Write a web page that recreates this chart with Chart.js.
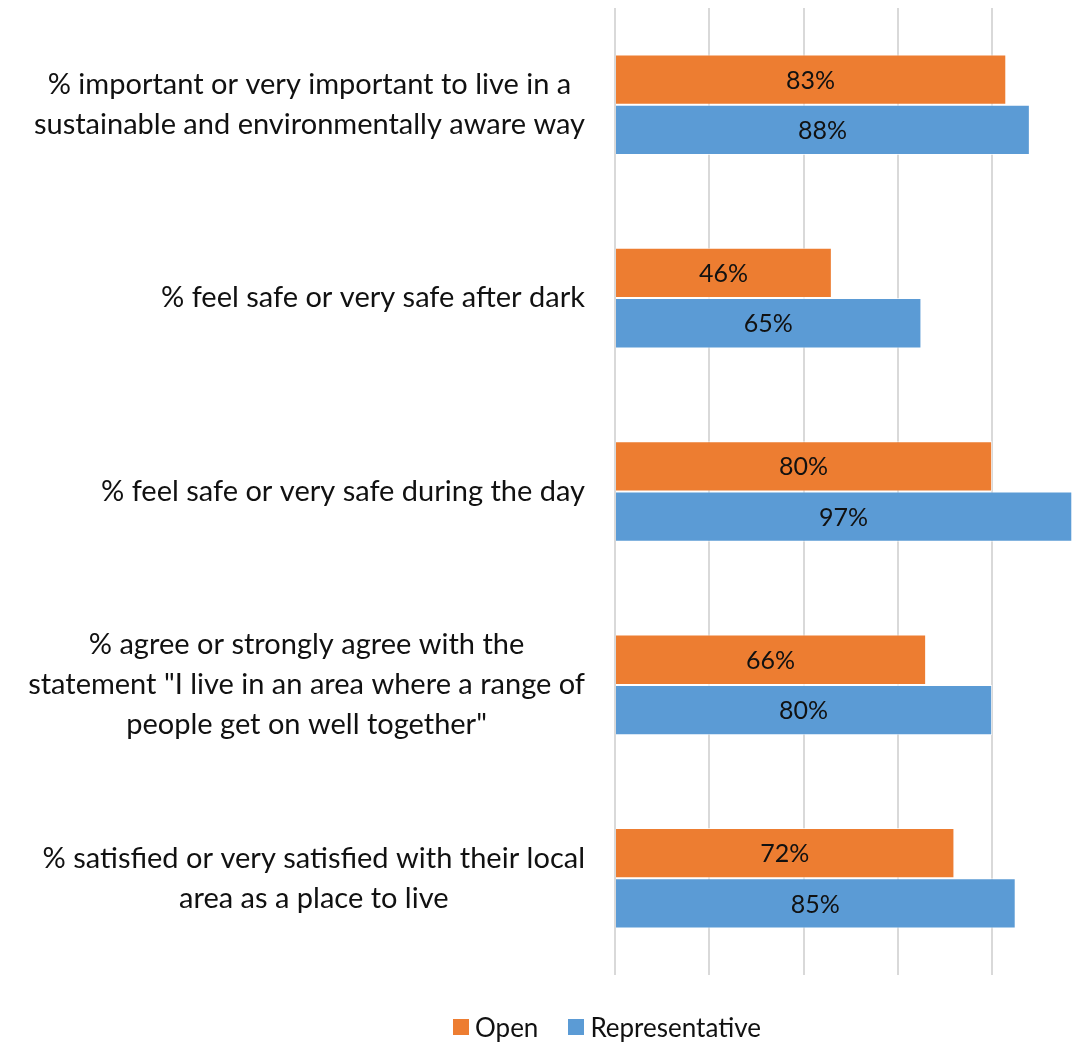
<!DOCTYPE html>
<html>
<head>
<meta charset="utf-8">
<script src="https://cdn.jsdelivr.net/npm/chart.js@4.4.1/dist/chart.umd.min.js"></script>
<style>
  html, body { margin: 0; padding: 0; background: #fff; }
  #wrap { position: relative; width: 1077px; height: 1044px; }
  #legend-container { position: absolute; left: 453px; top: 1011px; }
</style>
</head>
<body>
<div id="wrap">
  <canvas id="chart" width="1077" height="1044"></canvas>
  <div id="legend-container"></div>
</div>
<script>
const categories = [
    ['% important or very important to live in a', 'sustainable and environmentally aware way'],
    ['% feel safe or very safe after dark'],
    ['% feel safe or very safe during the day'],
    ['% agree or strongly agree with the', 'statement "I live in an area where a range of', 'people get on well together"'],
    ['% satisfied or very satisfied with their local', 'area as a place to live']
];
const openValues = [83, 46, 80, 66, 72];
const representativeValues = [88, 65, 97, 80, 85];
const seriesNames = ['Open', 'Representative'];
const seriesColors = ['#ED7D31', '#5B9BD5'];

const FONT = 'Lato, Calibri, Carlito, sans-serif';

// value labels in the middle of every bar
const barLabels = {
    id: 'barLabels',
    afterDatasetsDraw(chart) {
        const ctx = chart.ctx;
        ctx.save();
        ctx.font = '25px ' + FONT;
        ctx.fillStyle = '#111';
        ctx.textAlign = 'center';
        ctx.textBaseline = 'middle';
        chart.data.datasets.forEach((ds, i) => {
            chart.getDatasetMeta(i).data.forEach((bar, j) => {
                const xs = chart.scales.x;
                const cx = (xs.getPixelForValue(0) + bar.x) / 2;
                ctx.fillText(ds.data[j] + '%', cx, bar.y + 1);
            });
        });
        ctx.restore();
    }
};

// category labels: block right aligned, each line centred inside the block (like Excel)
const categoryLabels = {
    id: 'categoryLabels',
    afterDraw(chart) {
        const ctx = chart.ctx;
        const ys = chart.scales.y;
        const right = chart.chartArea.left - 30;
        const lh = 40;
        ctx.save();
        ctx.font = '29px ' + FONT;
        ctx.fillStyle = '#111';
        ctx.textAlign = 'center';
        ctx.textBaseline = 'middle';
        chart.data.labels.forEach((lines, i) => {
            const y = ys.getPixelForValue(i);
            const w = Math.max(...lines.map(l => ctx.measureText(l).width));
            const cx = right - w / 2;
            lines.forEach((l, k) => {
                ctx.fillText(l, cx, y + (k - (lines.length - 1) / 2) * lh);
            });
        });
        ctx.restore();
    }
};

const htmlLegend = {
    id: 'htmlLegend',
    afterUpdate(chart) {
        const box = document.getElementById('legend-container');
        box.innerHTML = '';
        const ul = document.createElement('ul');
        ul.style.display = 'flex';
        ul.style.margin = 0;
        ul.style.padding = 0;
        ul.style.listStyle = 'none';
        ul.style.gap = '30px';
        chart.data.datasets.forEach(ds => {
            const li = document.createElement('li');
            li.style.display = 'flex';
            li.style.alignItems = 'center';
            const sw = document.createElement('span');
            sw.style.display = 'inline-block';
            sw.style.width = '16px';
            sw.style.height = '16px';
            sw.style.background = ds.backgroundColor;
            sw.style.marginRight = '6px';
            const t = document.createElement('span');
            t.style.font = '26px ' + FONT;
            t.style.color = '#111';
            t.textContent = ds.label;
            li.appendChild(sw);
            li.appendChild(t);
            ul.appendChild(li);
        });
        box.appendChild(ul);
    }
};

new Chart(document.getElementById('chart'), {
    type: 'bar',
    data: {
        labels: categories,
        datasets: [
            { label: seriesNames[0], data: openValues, backgroundColor: seriesColors[0] },
            { label: seriesNames[1], data: representativeValues, backgroundColor: seriesColors[1] }
        ]
    },
    options: {
        indexAxis: 'y',
        responsive: false,
        animation: false,
        layout: { padding: { top: 8, bottom: 69, left: 0, right: 0 } },
        datasets: {
            bar: {
                categoryPercentage: 0.52,
                barPercentage: 1,
                borderColor: 'rgba(255,255,255,0.7)',
                borderWidth: 1
            }
        },
        scales: {
            x: {
                min: 0,
                max: 98,
                ticks: { display: false, stepSize: 20 },
                border: { display: false },
                grid: {
                    drawTicks: false,
                    lineWidth: 2,
                    color: c => (c.tick && c.tick.value % 20 === 0) ? '#D9D9D9' : 'rgba(0,0,0,0)'
                }
            },
            y: {
                border: { display: false },
                grid: { display: false, drawTicks: false },
                ticks: { display: false },
                afterFit(scale) {
                    scale.width = 615;
                    scale.paddingTop = 0;
                    scale.paddingBottom = 0;
                }
            }
        },
        plugins: {
            legend: { display: false },
            tooltip: { enabled: false }
        }
    },
    plugins: [barLabels, categoryLabels, htmlLegend]
});
</script>
</body>
</html>
